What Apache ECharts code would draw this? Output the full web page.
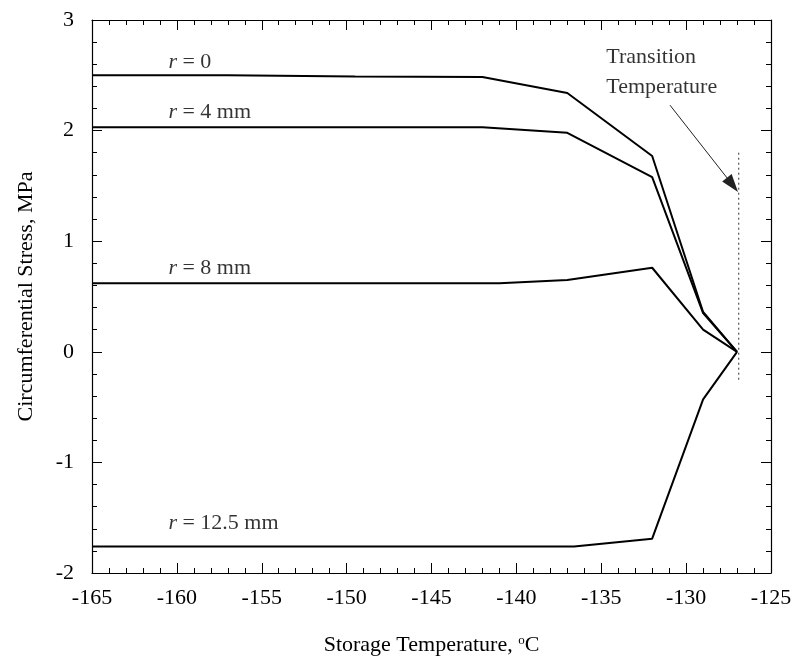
<!DOCTYPE html>
<html><head><meta charset="utf-8">
<script src="https://cdn.jsdelivr.net/npm/echarts@6/dist/echarts.min.js"></script>
<style>html,body{margin:0;padding:0;background:#fff}#c{width:800px;height:670px}</style>
</head><body><div id="c"></div>
<script>
// Data
const xTicks = [-165, -160, -155, -150, -145, -140, -135, -130, -125];
const yTicks = [-2, -1, 0, 1, 2, 3];
const r0 = [[-165, 2.50], [-157, 2.50], [-149.5, 2.49], [-142, 2.485], [-137, 2.34], [-132, 1.77], [-129, 0.36], [-127, 0]];
const r4 = [[-165, 2.03], [-142, 2.03], [-137, 1.98], [-132, 1.58], [-129, 0.35], [-127, 0]];
const r8 = [[-165, 0.62], [-141, 0.62], [-137, 0.65], [-132, 0.76], [-129, 0.20], [-127, 0]];
const r125 = [[-165, -1.76], [-136.6, -1.76], [-132, -1.69], [-129, -0.43], [-127, 0]];
const transitionLine = [[-126.9, 1.80], [-126.9, -0.28]];
const arrowFrom = [-130.95, 2.23];
const arrowTo = [-127.27, 1.51];
const curveLabels = [
  { x: -160.5, y: 2.62, rest: ' = 0' },
  { x: -160.5, y: 2.17, rest: ' = 4 mm' },
  { x: -160.5, y: 0.76, rest: ' = 8 mm' },
  { x: -160.5, y: -1.55, rest: ' = 12.5 mm' }
];
const noteLines = [[-134.7, 2.66, 'Transition'], [-134.7, 2.39, 'Temperature']];

const FONT = 'Liberation Serif';
const TXT = '#000';
const chart = echarts.init(document.getElementById('c'));
const lineStyle = { color: '#000', width: 2 };
function curve(d) {
  return { type: 'line', data: d, symbol: 'none', lineStyle: lineStyle, silent: true, z: 3 };
}
const tickCommon = {
  axisLine: { show: true, onZero: false, lineStyle: { color: '#000', width: 1.2 } },
  axisTick: { show: true, inside: true, length: 10, lineStyle: { color: '#000', width: 1 } },
  minorTick: { show: true, splitNumber: 5, length: 5, lineStyle: { color: '#000', width: 1 } },
  splitLine: { show: false }
};
chart.setOption({
  animation: false,
  backgroundColor: '#fff',
  textStyle: { fontFamily: FONT },
  grid: { left: 92, right: 29, top: 20, bottom: 97 },
  xAxis: [
    Object.assign({
      type: 'value', min: xTicks[0], max: xTicks[xTicks.length - 1], interval: 5, position: 'bottom',
      name: 'Storage Temperature, {sup|o}C', nameLocation: 'middle', nameGap: 61,
      nameTextStyle: { fontFamily: FONT, fontSize: 22, color: TXT,
        rich: { sup: { fontFamily: FONT, fontSize: 13, color: TXT, verticalAlign: 'top', padding: [0, 0, 8, 0] } } },
      axisLabel: { fontFamily: FONT, fontSize: 22, color: TXT, margin: 14 }
    }, tickCommon),
    Object.assign({
      type: 'value', min: xTicks[0], max: xTicks[xTicks.length - 1], interval: 5, position: 'top',
      axisLabel: { show: false }
    }, tickCommon)
  ],
  yAxis: [
    Object.assign({
      type: 'value', min: yTicks[0], max: yTicks[yTicks.length - 1], interval: 1, position: 'left',
      name: 'Circumferential Stress, MPa', nameLocation: 'middle', nameGap: 55,
      nameTextStyle: { fontFamily: FONT, fontSize: 22, color: TXT },
      axisLabel: { fontFamily: FONT, fontSize: 22, color: TXT, margin: 18 }
    }, tickCommon),
    Object.assign({
      type: 'value', min: yTicks[0], max: yTicks[yTicks.length - 1], interval: 1, position: 'right',
      axisLabel: { show: false }
    }, tickCommon)
  ],
  series: [
    curve(r0), curve(r4), curve(r8), curve(r125),
    {
      type: 'line', data: transitionLine, symbol: 'none', silent: true,
      lineStyle: { color: '#333', width: 1, type: [2, 3] },
      markLine: {
        silent: true, symbol: ['none', 'triangle'], symbolSize: [12, 18],
        label: { show: false },
        lineStyle: { color: '#222', width: 1, type: 'solid' },
        itemStyle: { color: '#000' },
        data: [[{ coord: arrowFrom }, { coord: arrowTo }]]
      }
    },
    {
      type: 'scatter', symbolSize: 0, silent: true,
      data: curveLabels.map(d => [d.x, d.y, d.rest]),
      label: {
        show: true, position: 'inside', align: 'left', verticalAlign: 'middle',
        formatter: p => '{i|r}{n|' + p.value[2] + '}',
        rich: {
          i: { fontFamily: FONT, fontStyle: 'italic', fontSize: 22, color: TXT },
          n: { fontFamily: FONT, fontSize: 22, color: TXT }
        }
      }
    },
    {
      type: 'scatter', symbolSize: 0, silent: true,
      data: noteLines,
      label: {
        show: true, position: 'inside', align: 'left', verticalAlign: 'middle',
        formatter: p => p.value[2],
        fontFamily: FONT, fontSize: 22, color: TXT
      }
    }
  ]
});
</script></body></html>
